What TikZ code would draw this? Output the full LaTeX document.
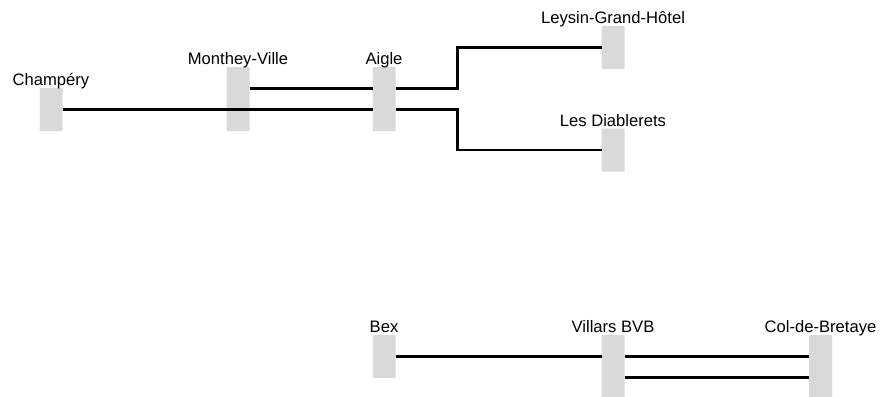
\documentclass[tikz,border=0pt]{standalone}
\usepackage{fontspec}
\setmainfont{Liberation Sans}
\definecolor{boxgray}{HTML}{D9D9D9}
\begin{document}
\begin{tikzpicture}[x=1pt,y=-1pt,
  stop/.style={fill=boxgray,draw=none,rounded corners=1pt,minimum width=23pt,inner sep=0pt,outer sep=0pt},
  short/.style={stop,minimum height=43pt},
  tall/.style={stop,minimum height=64pt},
  lab/.style={anchor=base,inner sep=0pt,font=\fontsize{16.6}{18}\selectfont},
  track/.style={draw=black,line width=2.8pt}]
\clip (0,0) rectangle (882,396);
\useasboundingbox (0,0) rectangle (882,396);
% stations
\node[short] (ch) at (51,109.5) {};
\node[tall]  (mv) at (238,99) {};
\node[tall]  (ai) at (384,99) {};
\node[short] (ly) at (613,47.5) {};
\node[short] (di) at (613,150) {};
\node[short] (bx) at (384,356.5) {};
\node[tall]  (vi) at (613,367) {};
\node[tall]  (cb) at (820.5,367) {};
% labels
\node[lab] (chl) at ([yshift=2.5pt]ch.north) {Champéry};
\node[lab] (mvl) at ([yshift=2.5pt]mv.north) {Monthey-Ville};
\node[lab] (ail) at ([yshift=2.5pt]ai.north) {Aigle};
\node[lab] (lyl) at ([yshift=2.5pt]ly.north) {Leysin-Grand-Hôtel};
\node[lab] (dil) at ([yshift=2.5pt]di.north) {Les Diablerets};
\node[lab] (bxl) at ([yshift=2.5pt]bx.north) {Bex};
\node[lab] (vil) at ([yshift=2.5pt]vi.north) {Villars BVB};
\node[lab] (cbl) at ([yshift=2.5pt]cb.north) {Col-de-Bretaye};
% tracks
\draw[track] (ch.east) -- (ch.east -| ai.west);
\draw[track] ([yshift=10.5pt]mv.east) -- ([yshift=10.5pt]ai.west);
\draw[track] ([yshift=10.5pt]ai.east) -- ++(62,0) coordinate (k1) |- (ly.west);
\draw[track] ([yshift=-10.5pt]ai.east) -- ++(62,0) coordinate (k2) |- (di.west);
\draw[track] (bx.east) -- (bx.east -| vi.west);
\draw[track] ([yshift=10.5pt]vi.east) -- ([yshift=10.5pt]cb.west);
\draw[track] ([yshift=-10.5pt]vi.east) -- ([yshift=-10.5pt]cb.west);
\end{tikzpicture}
\end{document}
